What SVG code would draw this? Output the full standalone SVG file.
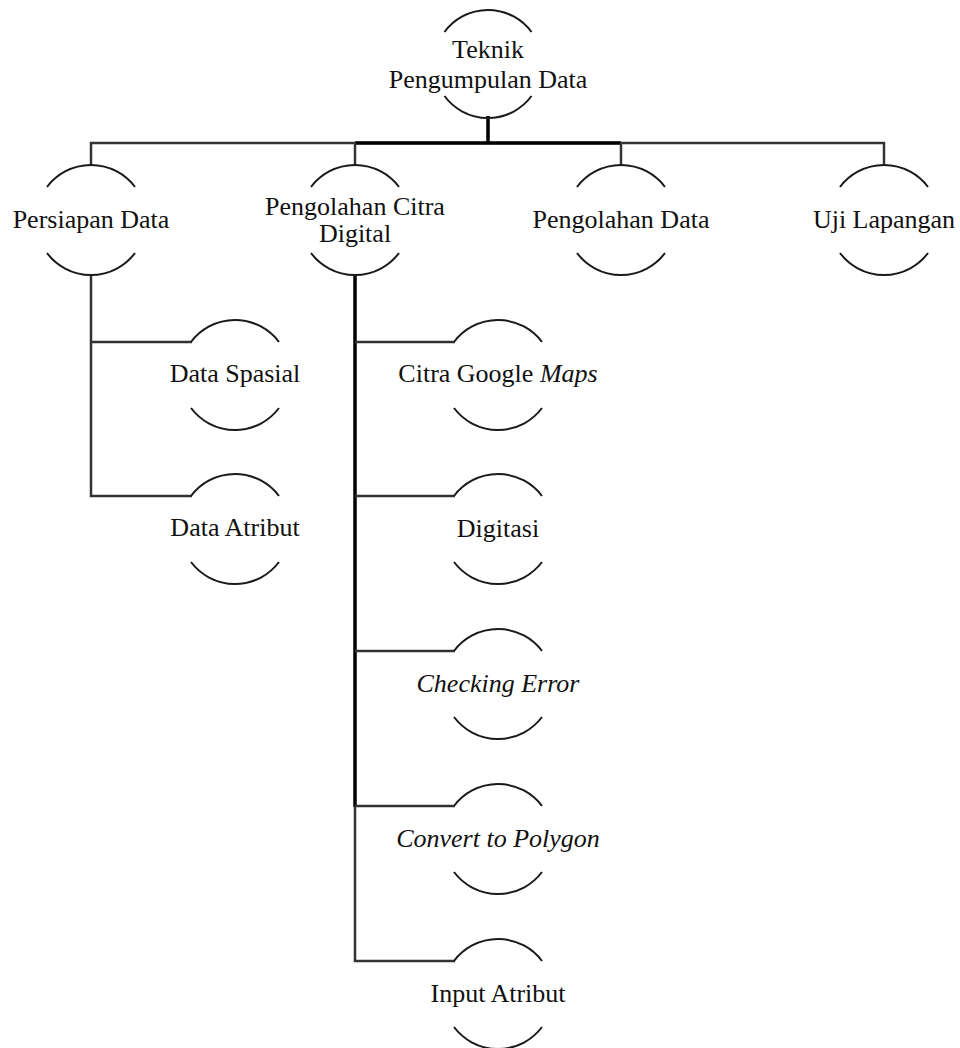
<svg xmlns="http://www.w3.org/2000/svg" width="960" height="1048" viewBox="0 0 960 1048">
<defs>
<style>
.arc{fill:none;stroke:#1a1a1a;stroke-width:2}
.t{font-family:"Liberation Serif","Times New Roman",serif;font-size:26px;fill:#111;text-anchor:middle}
.i{font-style:italic}
.c{fill:none;stroke:#333;stroke-width:2.5}
.k{fill:none;stroke:#000;stroke-width:3.5}
</style>
</defs>
<rect width="960" height="1048" fill="#fff"/>
<g id="connectors">
<line class="k" x1="488" y1="116" x2="488" y2="143"/>
<line class="c" x1="90" y1="143" x2="885" y2="143"/>
<line class="k" x1="355" y1="143" x2="621" y2="143"/>
<line class="c" x1="91" y1="142" x2="91" y2="166"/>
<line class="c" x1="355" y1="142" x2="355" y2="166"/>
<line class="c" x1="621" y1="142" x2="621" y2="166"/>
<line class="c" x1="884" y1="142" x2="884" y2="166"/>
<polyline class="c" points="91,274 91,496 192,496"/>
<line class="c" x1="91" y1="342" x2="192" y2="342"/>
<line class="k" x1="355" y1="274" x2="355" y2="807"/>
<polyline class="c" points="355,806 355,961 455,961"/>
<line class="c" x1="355" y1="342" x2="455" y2="342"/>
<line class="c" x1="355" y1="496" x2="455" y2="496"/>
<line class="c" x1="355" y1="651" x2="455" y2="651"/>
<line class="c" x1="355" y1="806" x2="455" y2="806"/>
</g>
<g id="root">
<path class="arc" d="M444.5,32 A54,54 0 0 1 531.5,32"/>
<path class="arc" d="M444.5,96 A54,54 0 0 0 531.5,96"/>
<text class="t" x="488" y="58">Teknik</text>
<text class="t" x="488" y="88">Pengumpulan Data</text>
</g>
<g id="persiapan-data">
<path class="arc" d="M47,187 A55,55 0 0 1 135,187"/>
<path class="arc" d="M47,253 A55,55 0 0 0 135,253"/>
<text class="t" x="91" y="228">Persiapan Data</text>
</g>
<g id="pengolahan-citra-digital">
<path class="arc" d="M311,187 A55,55 0 0 1 399,187"/>
<path class="arc" d="M311,253 A55,55 0 0 0 399,253"/>
<text class="t" x="355" y="215">Pengolahan Citra</text>
<text class="t" x="355" y="242">Digital</text>
</g>
<g id="pengolahan-data">
<path class="arc" d="M577,187 A55,55 0 0 1 665,187"/>
<path class="arc" d="M577,253 A55,55 0 0 0 665,253"/>
<text class="t" x="621" y="228">Pengolahan Data</text>
</g>
<g id="uji-lapangan">
<path class="arc" d="M840,187 A55,55 0 0 1 928,187"/>
<path class="arc" d="M840,253 A55,55 0 0 0 928,253"/>
<text class="t" x="884" y="228">Uji Lapangan</text>
</g>
<g id="data-spasial">
<path class="arc" d="M191,342 A55,55 0 0 1 279,342"/>
<path class="arc" d="M191,408 A55,55 0 0 0 279,408"/>
<text class="t" x="235" y="382">Data Spasial</text>
</g>
<g id="data-atribut">
<path class="arc" d="M191,496 A55,55 0 0 1 279,496"/>
<path class="arc" d="M191,562 A55,55 0 0 0 279,562"/>
<text class="t" x="235" y="536">Data Atribut</text>
</g>
<g id="citra-google-maps">
<path class="arc" d="M454,342 A55,55 0 0 1 542,342"/>
<path class="arc" d="M454,408 A55,55 0 0 0 542,408"/>
<text class="t" x="498" y="382">Citra Google <tspan class="i">Maps</tspan></text>
</g>
<g id="digitasi">
<path class="arc" d="M454,496 A55,55 0 0 1 542,496"/>
<path class="arc" d="M454,562 A55,55 0 0 0 542,562"/>
<text class="t" x="498" y="537">Digitasi</text>
</g>
<g id="checking-error">
<path class="arc" d="M454,651 A55,55 0 0 1 542,651"/>
<path class="arc" d="M454,717 A55,55 0 0 0 542,717"/>
<text class="t i" x="498" y="692">Checking Error</text>
</g>
<g id="convert-to-polygon">
<path class="arc" d="M454,806 A55,55 0 0 1 542,806"/>
<path class="arc" d="M454,872 A55,55 0 0 0 542,872"/>
<text class="t i" x="498" y="847">Convert to Polygon</text>
</g>
<g id="input-atribut">
<path class="arc" d="M454,961 A55,55 0 0 1 542,961"/>
<path class="arc" d="M454,1027 A55,55 0 0 0 542,1027"/>
<text class="t" x="498" y="1002">Input Atribut</text>
</g>
</svg>
